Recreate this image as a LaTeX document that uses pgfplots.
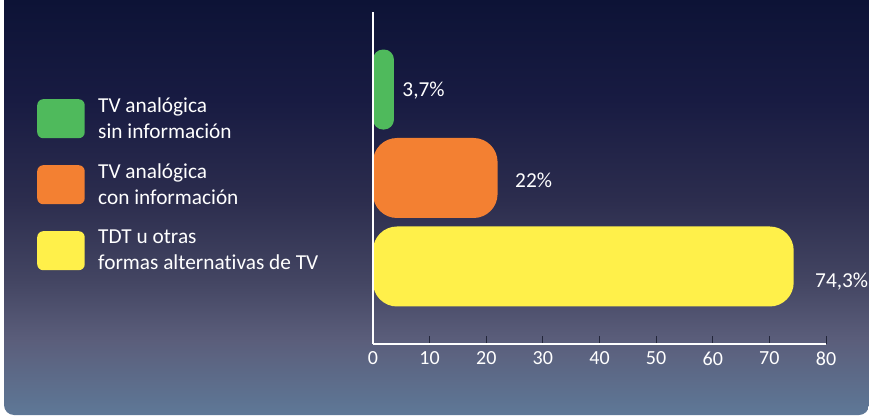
\documentclass[border=0pt]{standalone}
\usepackage{pgfplots}
\pgfplotsset{compat=1.18}
\usepackage{fontspec}
\setmainfont{Carlito}[Ligatures=NoCommon]
\definecolor{cgreen}{HTML}{4FBA5C}
\definecolor{corange}{HTML}{F38032}
\definecolor{cyellow}{HTML}{FFF04A}
\definecolor{ctick}{HTML}{23263A}
\definecolor{bg0}{HTML}{0D1336}
\definecolor{bg1}{HTML}{181B42}
\definecolor{bg2}{HTML}{2C2D4E}
\definecolor{bg3}{HTML}{434562}
\definecolor{bg4}{HTML}{5B5E7B}
\definecolor{bg5}{HTML}{5E7897}
\pgfdeclareverticalshading{bgshade}{100bp}{color(0bp)=(bg5); color(25bp)=(bg5); color(34bp)=(bg4); color(41.3bp)=(bg3); color(50.9bp)=(bg2); color(63bp)=(bg1); color(75bp)=(bg0); color(100bp)=(bg0)}
\newcommand{\lfont}{\fontsize{21.3}{26}\selectfont}
\begin{document}
\begin{tikzpicture}[x=1pt,y=1pt]
\path[use as bounding box] (0,0) rectangle (869,415);
\fill[white] (0,0) rectangle (869,415);
\shade[shading=bgshade] (4,415) [rounded corners=10pt]-- (4,0) -- (869,0) [sharp corners]-- (869,415) -- cycle;
\begin{axis}[
  at={(373pt,71pt)}, anchor=south west,
  scale only axis, width=453pt, height=332pt,
  xmin=0, xmax=80, ymin=0.124, ymax=3.876,
  clip=false,
  axis x line*=bottom, axis y line*=left,
  axis line style={white, line width=1.3pt},
  axis on top,
  ytick=\empty,
  xtick={10,20,...,80},
  extra x ticks={0},
  extra x tick style={major tick length=0pt},
  major tick length=8pt,
  tick align=inside,
  tick style={ctick, line width=1pt},
  /pgf/number format/assume math mode=true,
  xticklabel style={font=\fontsize{20}{24}\selectfont, text=white, yshift=-4pt},
  bar width=80pt,
  legend style={at={(-0.7417,0.7786)}, anchor=north west, draw=none, fill=none,
    text=white, font=\lfont, row sep=0pt, column sep=13.5pt, inner sep=0pt,
    nodes={align=left, inner sep=0pt}},
  legend cell align=left,
]
\addplot[xbar, bar shift=0pt, fill=cgreen, draw=none, rounded corners=10pt,
  legend image code/.code={\fill[cgreen, rounded corners=6pt] (0pt,-19.5pt) rectangle (47.5pt,19.5pt); \path[fill=none, draw=none] (0pt,-33pt) rectangle (47.5pt,33pt);}]
  coordinates {(3.7,3)};
\addlegendentry{TV analógica\\sin información}
\addplot[xbar, bar shift=0pt, fill=corange, draw=none, rounded corners=24pt,
  legend image code/.code={\fill[corange, rounded corners=6pt] (0pt,-19.5pt) rectangle (47.5pt,19.5pt); \path[fill=none, draw=none] (0pt,-33pt) rectangle (47.5pt,33pt);}]
  coordinates {(22,2)};
\addlegendentry{TV analógica\\con información}
\addplot[xbar, bar shift=0pt, fill=cyellow, draw=none, rounded corners=24pt,
  legend image code/.code={\fill[cyellow, rounded corners=6pt] (0pt,-19.5pt) rectangle (47.5pt,19.5pt); \path[fill=none, draw=none] (0pt,-33pt) rectangle (47.5pt,33pt);}]
  coordinates {(74.3,1)};
\addlegendentry{TDT u otras\\formas alternativas de TV}
\node[anchor=base west, inner sep=0pt, text=white, font=\lfont] at (axis cs:5.17,2.924) {3,7\%};
\node[anchor=base west, inner sep=0pt, text=white, font=\lfont] at (axis cs:25.08,1.894) {22\%};
\node[anchor=base west, inner sep=0pt, text=white, font=\lfont] at (axis cs:78.06,0.765) {74,3\%};
\end{axis}
\end{tikzpicture}
\end{document}
